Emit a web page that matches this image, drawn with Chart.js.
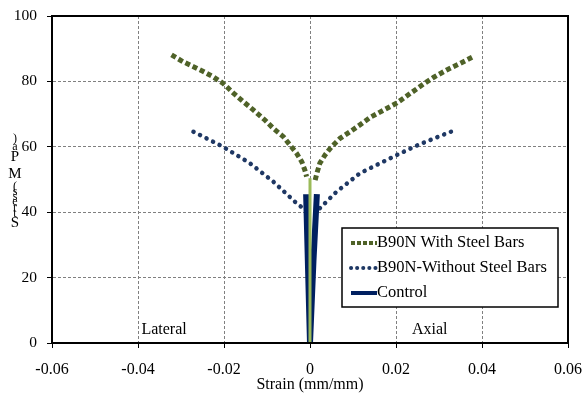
<!DOCTYPE html>
<html>
<head>
<meta charset="utf-8">
<script src="https://cdn.jsdelivr.net/npm/chart.js@4/dist/chart.umd.min.js"></script>
<style>
  body { margin: 0; background: #fff; }
  canvas { display: block; }
</style>
</head>
<body>
<canvas id="chart" width="582" height="400"></canvas>
<script>
// Stress-strain data (strain in mm/mm, stress in MPa)
const withBarsX = [-0.0322, -0.0295, -0.0271, -0.0248, -0.0225, -0.0202, -0.0178, -0.0155, -0.0132, -0.0105, -0.0085,
                   -0.0062, -0.0047, -0.0031, -0.0019, -0.0012, -0.0008,
                   null,
                   0.0012, 0.0016, 0.0023, 0.0035, 0.0050, 0.0070, 0.0093, 0.0116, 0.0140, 0.0171, 0.0202,
                   0.0233, 0.0264, 0.0287, 0.0318, 0.0349, 0.0380];
const withBarsY = [88.1, 86.0, 84.5, 83.0, 81.4, 79.4, 76.4, 73.8, 71.3, 68.2, 65.6,
                   63.1, 60.6, 58.0, 55.4, 52.9, 50.9,
                   null,
                   49.8, 51.9, 55.0, 57.5, 60.0, 62.6, 64.6, 66.7, 69.0, 71.2, 73.4,
                   76.3, 79.2, 81.2, 83.5, 85.5, 87.6];

const withoutBarsX = [-0.0271, -0.0202, -0.0140, -0.0085, -0.0031, -0.0016,
                      null,
                      0.0023, 0.0062, 0.0116, 0.0202, 0.0252, 0.0337];
const withoutBarsY = [64.6, 60.0, 55.0, 49.3, 42.7, 41.2,
                      null,
                      41.2, 46.3, 51.9, 57.5, 60.6, 65.1];

const controlX = [-0.0009, -0.0005, 0, 0.0008, 0.0016];
const controlY = [45.5, 25, 0, 25, 45.5];

const innerX = [0, 0];
const innerY = [0, 50.4];

const xTicks = [-0.06, -0.04, -0.02, 0, 0.02, 0.04, 0.06];
const yTicks = [0, 20, 40, 60, 80, 100];

const noteText = ['Lateral', 'Axial'];
const noteX = [-0.0392, 0.0237];
const noteY = [4.0, 4.0];

const yTitleChars = [')', 'a', 'P', 'M', '(', 's', 's', 'e', 'r', 't', 'S'];

const FONT = 'Liberation Serif, Times New Roman, serif';

function toPoints(xs, ys) {
    return xs.map((x, i) => (x === null ? { x: null, y: null } : { x, y: ys[i] }));
}

const datasets = [
    {
        label: 'B90N With Steel Bars',
        data: toPoints(withBarsX, withBarsY),
        borderColor: '#4f6228',
        borderWidth: 5,
        borderDash: [5, 3],
        borderCapStyle: 'butt',
        order: 3
    },
    {
        label: 'B90N-Without Steel Bars',
        data: toPoints(withoutBarsX, withoutBarsY),
        borderColor: '#1f3864',
        borderWidth: 4.5,
        borderDash: [0.1, 7.2],
        borderCapStyle: 'round',
        order: 2
    },
    {
        label: 'Control',
        data: toPoints(controlX, controlY),
        borderColor: '#002060',
        borderWidth: 6,
        order: 1
    },
    {
        label: '',
        data: toPoints(innerX, innerY),
        borderColor: '#9bbb59',
        borderWidth: 3,
        order: 0,
        hideInLegend: true
    }
];
datasets.forEach(d => {
    d.showLine = true;
    d.pointRadius = 0;
    d.spanGaps = false;
    d.fill = false;
    d.tension = 0;
});

// frame, notes, y title and boxed legend
const extras = {
    id: 'extras',
    afterDraw(chart) {
        const { ctx, chartArea: a, scales: { x, y } } = chart;
        ctx.save();
        ctx.strokeStyle = '#000';
        ctx.lineWidth = 2;
        ctx.strokeRect(a.left, a.top, a.right - a.left, a.bottom - a.top);

        ctx.fillStyle = '#000';
        ctx.font = '16px ' + FONT;
        ctx.textAlign = 'left';
        ctx.textBaseline = 'middle';
        noteText.forEach((t, i) => ctx.fillText(t, x.getPixelForValue(noteX[i]), y.getPixelForValue(noteY[i])));

        // garbled vertical axis title, characters stacked upright
        ctx.textAlign = 'center';
        const ys = [139, 147, 157, 174, 187, 192, 197, 202, 208, 214, 223];
        yTitleChars.forEach((c, i) => {
            ctx.font = (/[PMS]/.test(c) ? '15px ' : '12px ') + FONT;
            ctx.fillText(c, 15, ys[i]);
        });

        // legend
        const lx = 342, ly = 228, lw = 216, lh = 79;
        ctx.fillStyle = '#fff';
        ctx.fillRect(lx, ly, lw, lh);
        ctx.lineWidth = 1.5;
        ctx.strokeStyle = '#000';
        ctx.strokeRect(lx, ly, lw, lh);
        ctx.font = '16.5px ' + FONT;
        ctx.textAlign = 'left';
        let row = 0;
        chart.data.datasets.forEach(d => {
            if (d.hideInLegend) return;
            const ry = ly + 15 + row * 25;
            ctx.save();
            ctx.strokeStyle = d.borderColor;
            ctx.lineWidth = 4;
            ctx.lineCap = d.borderCapStyle || 'butt';
            ctx.setLineDash(d.borderDash ? (d.borderCapStyle === 'round' ? [0.1, 6] : [4, 2]) : []);
            ctx.beginPath();
            ctx.moveTo(lx + 9, ry);
            ctx.lineTo(lx + 35, ry);
            ctx.stroke();
            ctx.restore();
            ctx.fillStyle = '#000';
            ctx.fillText(d.label, lx + 35, ry);
            row++;
        });
        ctx.restore();
    }
};

new Chart(document.getElementById('chart'), {
    type: 'scatter',
    data: { datasets },
    options: {
        responsive: false,
        animation: false,
        events: [],
        layout: { padding: { top: 16, right: 14, left: 0, bottom: 0 } },
        plugins: { legend: { display: false }, tooltip: { enabled: false } },
        scales: {
            x: {
                type: 'linear',
                min: xTicks[0],
                max: xTicks[xTicks.length - 1],
                afterBuildTicks: s => { s.ticks = xTicks.map(v => ({ value: v })); },
                afterFit: s => { s.height = 57; s.paddingLeft = 0; s.paddingRight = 0; },
                ticks: {
                    color: '#000',
                    font: { family: FONT, size: 16 },
                    padding: 12,
                    maxRotation: 0,
                    callback: v => (Math.abs(v) < 1e-9 ? '0' : v.toFixed(2))
                },
                grid: {
                    color: c => (Math.abs(Math.abs(c.tick.value) - 0.06) < 1e-9 ? 'rgba(0,0,0,0)' : '#808080'),
                    lineWidth: 1,
                    tickColor: '#000',
                    tickLength: 5
                },
                border: { display: true, color: '#000', width: 2, dash: [3, 2] },
                title: {
                    display: true,
                    text: 'Strain (mm/mm)',
                    color: '#000',
                    font: { family: FONT, size: 16 },
                    padding: { top: 0, bottom: 6 }
                }
            },
            y: {
                type: 'linear',
                min: yTicks[0],
                max: yTicks[yTicks.length - 1],
                afterBuildTicks: s => { s.ticks = yTicks.map(v => ({ value: v })); },
                afterFit: s => { s.width = 52; s.paddingTop = 0; s.paddingBottom = 0; },
                ticks: {
                    color: '#000',
                    font: { family: FONT, size: 15.5 },
                    padding: 10
                },
                grid: {
                    color: c => (c.tick.value === 0 || c.tick.value === 100 ? 'rgba(0,0,0,0)' : '#808080'),
                    lineWidth: 1,
                    tickColor: '#000',
                    tickLength: 5
                },
                border: { display: true, color: '#000', width: 2, dash: [3, 2] }
            }
        }
    },
    plugins: [extras]
});
</script>
</body>
</html>
